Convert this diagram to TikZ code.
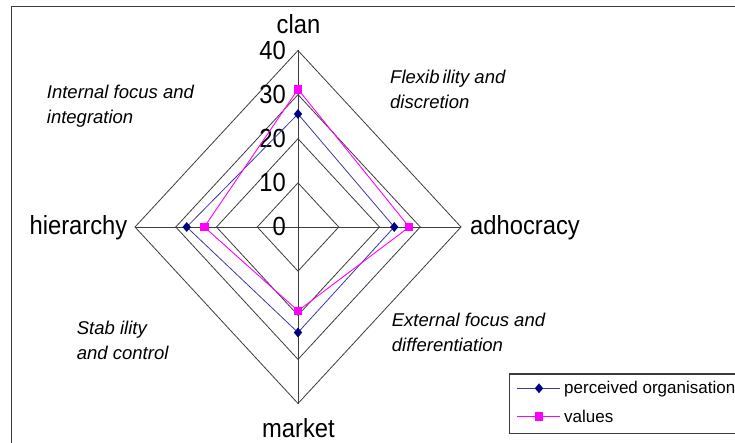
\documentclass[tikz,border=0pt]{standalone}
\usepackage{fontspec}
\usepackage{graphicx}
\setmainfont{Liberation Sans}
\usetikzlibrary{shapes.geometric}
\definecolor{navyc}{HTML}{000080}
\definecolor{navyline}{HTML}{3A3AA0}
\definecolor{magc}{HTML}{FF00FF}
\definecolor{gridc}{HTML}{3C3C3C}
\newcommand{\talltxt}[1]{\scalebox{0.97}[1.07]{#1}}
\begin{document}
\begin{tikzpicture}[x=1pt,y=-1pt,
  gridline/.style={draw=gridc, line width=0.8pt},
  frameline/.style={draw=gridc, line width=1.2pt},
  axislabel/.style={inner sep=0pt, font=\fontsize{24.5}{28}\selectfont},
  ticklabel/.style={inner sep=0pt, anchor=base east, font=\fontsize{24.5}{28}\selectfont},
  quadlabel/.style={inner sep=0pt, anchor=base west, font=\fontsize{18.5}{22}\selectfont\itshape},
  legtext/.style={inner sep=0pt, anchor=base west, font=\fontsize{17}{21}\selectfont},
  bline/.style={draw=navyline, line width=0.8pt},
  mline/.style={draw=magc, line width=0.9pt},
  bmark/.style={diamond, fill=navyc, inner sep=0pt, minimum width=8.5pt, minimum height=10pt},
  mmark/.style={rectangle, fill=magc, inner sep=0pt, minimum size=8.5pt}]
\useasboundingbox (0,0) rectangle (735,443);
% outer frame (right and bottom sides fall outside the picture)
\draw[frameline] (11.7,6.7) rectangle (770,470);
% grid diamonds
\foreach \r in {10,20,30,40}{
  \draw[gridline] ({298-4.075*\r},227) -- (298,{227-4.4125*\r}) -- ({298+4.075*\r},227) -- (298,{227+4.4125*\r}) -- cycle;
}
% axes
\draw[gridline] (298,50.5) -- (298,403.5);
\draw[gridline] (135,227) -- (461,227);
% tick labels
\node[ticklabel] (t40) at (286,59.5) {\talltxt{40}};
\node[ticklabel] (t30) at (286,103.6) {\talltxt{30}};
\node[ticklabel] (t20) at (286,147.8) {\talltxt{20}};
\node[ticklabel] (t10) at (286,191.9) {\talltxt{10}};
\node[ticklabel] (t0) at (286,236) {\talltxt{0}};
% axis labels
\node[axislabel, anchor=base] (clan) at (298.5,33.3) {\talltxt{clan}};
\node[axislabel, anchor=base east] (hier) at (127.5,235) {\talltxt{hierarchy}};
\node[axislabel, anchor=base west] (adh) at (470,235) {\talltxt{adhocracy}};
\node[axislabel, anchor=base] (mkt) at (298.5,437) {\talltxt{market}};
% quadrant labels
\node[quadlabel] (q1a) at (46.7,98.3) {Internal focus and};
\node[quadlabel] (q1b) at (46.7,123.3) {integration};
\node[quadlabel] (q2a) at (390,83.3) {Flexib\,ility and};
\node[quadlabel] (q2b) at (390,108.3) {discretion};
\node[quadlabel] (q3a) at (76.7,334.3) {Stab ility};
\node[quadlabel] (q3b) at (76.7,359) {and control};
\node[quadlabel] (q4a) at (391.7,326.7) {External focus and};
\node[quadlabel] (q4b) at (391.7,351.7) {differentiation};
% data points
\coordinate (bc) at (298,114.0);
\coordinate (ba) at (394.2,227);
\coordinate (bm) at (298,332.5);
\coordinate (bh) at (186.7,227);
\coordinate (mc) at (298,89.3);
\coordinate (ma) at (409.2,227);
\coordinate (mm) at (298,310.8);
\coordinate (mh) at (204.3,227);
\draw[bline] (bc) -- (ba) -- (bm) -- (bh) -- cycle;
\draw[mline] (mc) -- (ma) -- (mm) -- (mh) -- cycle;
\foreach \p in {bc,ba,bm,bh} \node[bmark] at (\p) {};
\foreach \p in {mc,ma,mm,mh} \node[mmark] at (\p) {};
% legend
\draw[frameline] (509.5,374) rectangle (780,433.5);
\coordinate (l1a) at (517,388.3);
\coordinate (l1b) at (560,388.3);
\coordinate (l2a) at (517,416.7);
\coordinate (l2b) at (560,416.7);
\draw[bline] (l1a) -- (l1b);
\draw[mline] (l2a) -- (l2b);
\node[bmark] (lm1) at (539,388.3) {};
\node[mmark] (lm2) at (539,416.7) {};
\node[legtext] (lt1) at (564,393.5) {perceived organisation};
\node[legtext] (lt2) at (564,422.7) {values};
\end{tikzpicture}
\end{document}
